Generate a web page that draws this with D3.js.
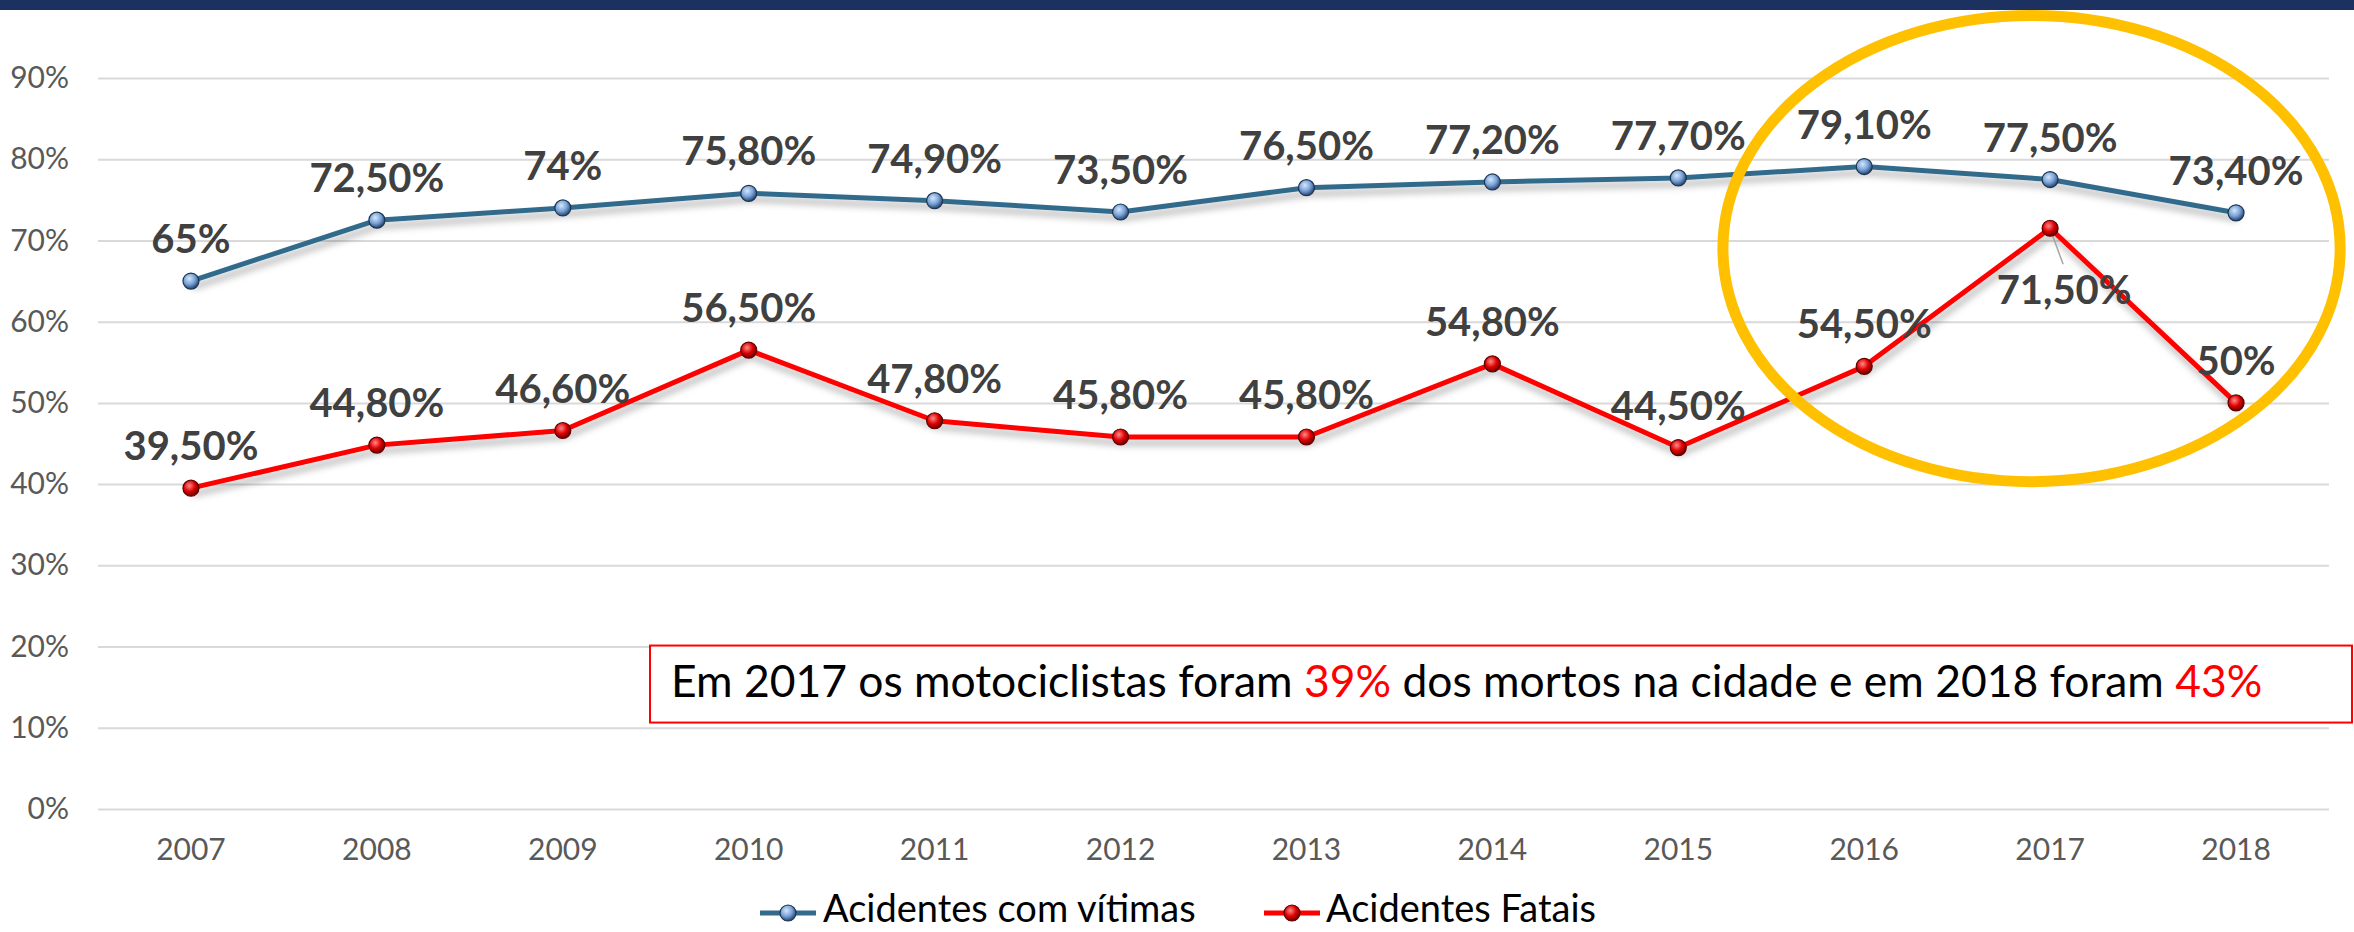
<!DOCTYPE html>
<html lang="pt">
<head>
<meta charset="UTF-8">
<title>Acidentes com motociclistas</title>
<script src="https://d3js.org/d3.v7.min.js"></script>
<style>
  body { margin: 0; background: #fff; }
  svg { display: block; font-family: "Gill Sans", Lato, "Open Sans", sans-serif; }
  .axis text { fill: #595959; font-size: 30px; font-family: "Gill Sans", Lato, "Open Sans", sans-serif; }
  .axis .domain { display: none; }
  .grid line { stroke: #d9d9d9; stroke-width: 2px; }
  .lbl { font-weight: bold; font-size: 40px; fill: #404040; text-anchor: middle; }
</style>
</head>
<body>
<script>
// dados
const anos = ["2007", "2008", "2009", "2010", "2011", "2012", "2013", "2014", "2015", "2016", "2017", "2018"];
const comVitimas = [65, 72.5, 74, 75.8, 74.9, 73.5, 76.5, 77.2, 77.7, 79.1, 77.5, 73.4];
const fatais = [39.5, 44.8, 46.6, 56.5, 47.8, 45.8, 45.8, 54.8, 44.5, 54.5, 71.5, 50];
const yTicks = [0, 10, 20, 30, 40, 50, 60, 70, 80, 90];
const nomes = ["Acidentes com vítimas", "Acidentes Fatais"];
const nota = [["Em 2017 os motociclistas foram ", "#000"], ["39%", "#ff0000"],
              [" dos mortos na cidade e em 2018 foram ", "#000"], ["43%", "#ff0000"]];

const width = 2354, height = 932;
const mLeft = 98, mRight = 2329, mTop = 78, mBottom = 809;

const svg = d3.select("body").append("svg")
    .attr("width", width)
    .attr("height", height);

const defs = svg.append("defs");

// sombra das linhas
const sh = defs.append("filter").attr("id", "sombra")
    .attr("x", "-5%").attr("y", "-20%").attr("width", "110%").attr("height", "160%");
sh.append("feDropShadow").attr("dx", 2).attr("dy", 6).attr("stdDeviation", 3.5)
    .attr("flood-color", "#000").attr("flood-opacity", 0.3);

// gradientes das bolinhas
function esfera(id, c0, c1, c2) {
    const g = defs.append("radialGradient").attr("id", id)
        .attr("cx", "40%").attr("cy", "35%").attr("r", "65%");
    g.append("stop").attr("offset", "0%").attr("stop-color", c0);
    g.append("stop").attr("offset", "55%").attr("stop-color", c1);
    g.append("stop").attr("offset", "100%").attr("stop-color", c2);
}
esfera("bAzul", "#d4e6fb", "#7aa3d8", "#27456f");
esfera("bVerm", "#ff8a8a", "#e00000", "#6a0000");

// barra azul do topo
svg.append("rect").attr("x", 0).attr("y", 0).attr("width", width).attr("height", 10)
    .attr("fill", "#1d3161");

const x = d3.scaleBand().domain(anos).range([mLeft, mRight]).padding(0);
const cx = d => x(d) + x.bandwidth() / 2;
const y = d3.scaleLinear().domain([0, 90]).range([mBottom, mTop]);

// eixo y + grade
svg.append("g")
    .attr("class", "axis grid")
    .attr("transform", `translate(${mLeft},0)`)
    .call(d3.axisLeft(y).tickValues(yTicks).tickFormat(d => d + "%")
        .tickSize(-(mRight - mLeft)).tickPadding(29));

// eixo x
svg.append("g")
    .attr("class", "axis")
    .attr("transform", `translate(0,${mBottom})`)
    .call(d3.axisBottom(x).tickSize(0).tickPadding(30));

const fmt = v => Number.isInteger(v) ? v + "%" : v.toFixed(2).replace(".", ",") + "%";

const series = [
    { nome: nomes[0], vals: comVitimas, cor: "#336b8c", bola: "url(#bAzul)", borda: "#1c3552" },
    { nome: nomes[1], vals: fatais, cor: "#ff0000", bola: "url(#bVerm)", borda: "#600000" }
];

const linha = d3.line().x((v, i) => cx(anos[i])).y(v => y(v));

series.forEach(s => {
    svg.append("path")
        .datum(s.vals)
        .attr("d", linha)
        .attr("fill", "none")
        .attr("stroke", s.cor)
        .attr("stroke-width", 5)
        .attr("stroke-linejoin", "round")
        .attr("filter", "url(#sombra)");
});

// linha de chamada do 71,50%
const iMax = fatais.indexOf(71.5);
svg.append("line")
    .attr("x1", cx(anos[iMax]) + 2).attr("y1", y(fatais[iMax]) + 6)
    .attr("x2", cx(anos[iMax]) + 13).attr("y2", y(fatais[iMax]) + 36)
    .attr("stroke", "#a6a6a6").attr("stroke-width", 1.5);

series.forEach(s => {
    svg.append("g").selectAll("circle")
        .data(s.vals)
        .join("circle")
        .attr("cx", (v, i) => cx(anos[i]))
        .attr("cy", v => y(v))
        .attr("r", 8)
        .attr("fill", s.bola)
        .attr("stroke", s.borda)
        .attr("stroke-width", 1.2);
});

// rótulos
series.forEach((s, k) => {
    svg.append("g").selectAll("text")
        .data(s.vals)
        .join("text")
        .attr("class", "lbl")
        .attr("x", (v, i) => cx(anos[i]) + (k == 1 && i == iMax ? 14 : 0))
        .attr("y", (v, i) => y(v) + (k == 1 && i == iMax ? 76 : -28))
        .text(v => fmt(v));
});

// elipse de destaque
svg.append("ellipse")
    .attr("cx", cx("2017") - 0.1 * x.bandwidth())
    .attr("cy", y(69))
    .attr("rx", 1.66 * x.bandwidth())
    .attr("ry", y(0) - y(28.7))
    .attr("fill", "none")
    .attr("stroke", "#ffc000")
    .attr("stroke-width", 11);

// caixa de texto
const bx = 650, by = y(20) - 1, bw = 1702, bh = 77;
svg.append("rect")
    .attr("x", bx).attr("y", by).attr("width", bw).attr("height", bh)
    .attr("fill", "#fff").attr("stroke", "#ff0000").attr("stroke-width", 2);

const t = svg.append("text")
    .attr("x", 671).attr("y", by + 51)
    .attr("font-size", 40);
nota.forEach(p => t.append("tspan").attr("fill", p[1]).text(p[0]));
const alvo = 1592;
const larg = t.node().getComputedTextLength();
t.attr("font-size", 40 * alvo / larg);

// legenda
const leg = [{ x0: 760, tx: 823 }, { x0: 1264, tx: 1326 }];
series.forEach((s, k) => {
    const g = svg.append("g").attr("transform", `translate(${leg[k].x0},913)`);
    g.append("line").attr("x1", 0).attr("x2", 56).attr("stroke", s.cor).attr("stroke-width", 5);
    g.append("circle").attr("cx", 28).attr("r", 8).attr("fill", s.bola)
        .attr("stroke", s.borda).attr("stroke-width", 1.2);
    svg.append("text")
        .attr("x", leg[k].tx).attr("y", 922)
        .attr("font-size", 38).attr("fill", "#000")
        .text(s.nome);
});
</script>
</body>
</html>
